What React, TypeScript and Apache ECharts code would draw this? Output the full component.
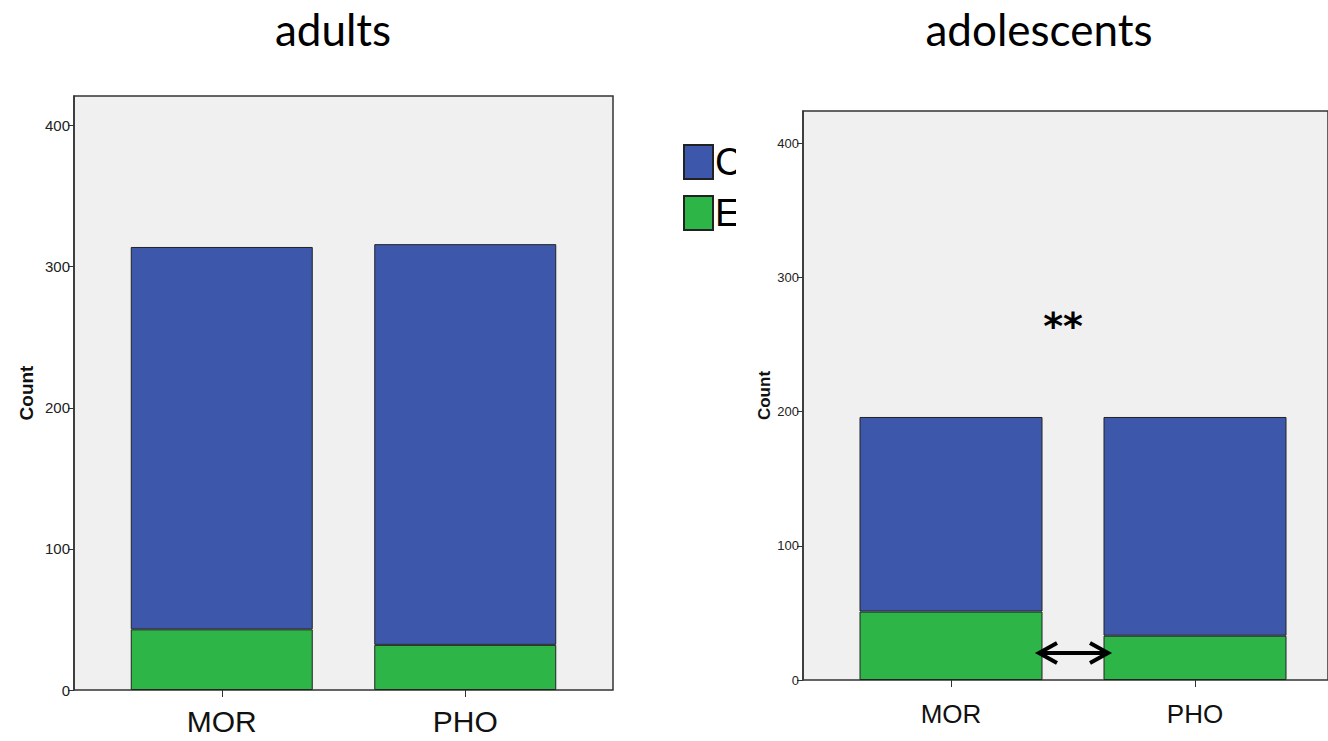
import React, { useEffect, useRef } from "react";
import * as echarts from "echarts";

const categories = ["MOR", "PHO"];
const legendNames = ["C", "E"];
const adultsE = [43, 32];
const adultsC = [271, 284];
const adolE = [51, 33];
const adolC = [145, 163];
const yTicks = [0, 100, 200, 300, 400];
const titles = ["adults", "adolescents"];
const significance = "**";

const BLUE = "#3D58AB";
const GREEN = "#2EB548";
const BG = "#F0F0F0";
const FRAME = "#333333";

export default function App() {
  const ref = useRef<HTMLDivElement>(null);
  useEffect(() => {
    if (!ref.current) return;
    const chart = echarts.init(ref.current, null, { renderer: "svg" });
    const frameY = (gi: number, max: number, fs: number, nameFs: number, nameGap: number) => ({
      gridIndex: gi,
      type: "value",
      min: 0,
      max,
      interval: 100,
      name: "Count",
      nameLocation: "middle",
      nameRotate: 90,
      nameGap,
      nameTextStyle: { fontFamily: "Liberation Sans", fontWeight: "bold", fontSize: nameFs, color: "#111" },
      axisLine: { show: true, lineStyle: { color: FRAME, width: 1.5 } },
      axisTick: { show: true, length: 6, customValues: yTicks, lineStyle: { color: FRAME } },
      axisLabel: { customValues: yTicks, fontFamily: "Liberation Sans", fontSize: fs, color: "#222", margin: 4 },
      splitLine: { show: false },
    });
    const barX = (gi: number, fs: number, margin: number) => ({
      gridIndex: gi,
      type: "category",
      data: categories,
      axisLine: { show: false },
      axisTick: { show: true, alignWithLabel: true, length: 7, lineStyle: { color: FRAME } },
      axisLabel: { fontFamily: "Liberation Sans", fontSize: fs, color: "#111", margin },
    });
    const barStyle = (c: string) => ({ color: c, borderColor: "#222", borderWidth: 1 });
    chart.setOption({
      animation: false,
      backgroundColor: "#FFFFFF",
      title: [
        { text: titles[0], left: 328, top: 2, textAlign: "center", textStyle: { fontFamily: "Lato", fontWeight: "normal", fontSize: 44, color: "#000" } },
        { text: titles[1], left: 1034, top: 2, textAlign: "center", textStyle: { fontFamily: "Lato", fontWeight: "normal", fontSize: 44, color: "#000" } },
      ],
      legend: {
        data: legendNames,
        orient: "vertical",
        left: 683,
        top: 143,
        padding: 0,
        itemWidth: 29,
        itemHeight: 34,
        itemGap: 13,
        icon: "rect",
        selectedMode: false,
        textStyle: { fontFamily: "Liberation Sans", fontSize: 38, color: "#000", padding: [0, 0, 0, -3] },
      },
      grid: [
        { left: 74, top: 96, width: 539, height: 594, show: true, backgroundColor: BG, borderColor: FRAME, borderWidth: 1.5 },
        { left: 100, top: 96, width: 487, height: 594 },
        { left: 803, top: 111, width: 600, height: 569, show: true, backgroundColor: BG, borderColor: FRAME, borderWidth: 1.5 },
        { left: 829, top: 111, width: 488, height: 569 },
      ],
      xAxis: [
        { gridIndex: 0, type: "category", data: categories, show: false },
        barX(1, 30, 16),
        { gridIndex: 2, type: "category", data: categories, show: false },
        barX(3, 26, 21),
      ],
      yAxis: [
        frameY(0, 421, 15, 19, 38),
        { gridIndex: 1, type: "value", min: 0, max: 421, show: false },
        frameY(2, 424, 13, 17, 28),
        { gridIndex: 3, type: "value", min: 0, max: 424, show: false },
      ],
      series: [
        { name: "E", type: "bar", xAxisIndex: 1, yAxisIndex: 1, stack: "a", barWidth: 182, data: adultsE, itemStyle: barStyle(GREEN) },
        { name: "C", type: "bar", xAxisIndex: 1, yAxisIndex: 1, stack: "a", barWidth: 182, data: adultsC, itemStyle: barStyle(BLUE) },
        { name: "E", type: "bar", xAxisIndex: 3, yAxisIndex: 3, stack: "b", barWidth: 183, data: adolE, itemStyle: barStyle(GREEN) },
        { name: "C", type: "bar", xAxisIndex: 3, yAxisIndex: 3, stack: "b", barWidth: 183, data: adolC, itemStyle: barStyle(BLUE) },
      ],
      graphic: [
        { type: "rect", z: 100, shape: { x: 736, y: 130, width: 36, height: 105 }, style: { fill: "#FFFFFF" } },
        {
          type: "text", z: 100, x: 1063, y: 326,
          style: { text: significance, fontFamily: "DejaVu Sans", fontWeight: "bold", fontSize: 38, fill: "#000", textAlign: "center", textVerticalAlign: "middle" },
        },
        { type: "line", z: 100, shape: { x1: 1040, y1: 653, x2: 1107, y2: 653 }, style: { stroke: "#000", lineWidth: 4 } },
        { type: "polyline", z: 100, shape: { points: [[1057, 643], [1039, 653], [1057, 663]] }, style: { stroke: "#000", lineWidth: 4, fill: null } },
        { type: "polyline", z: 100, shape: { points: [[1090, 643], [1108, 653], [1090, 663]] }, style: { stroke: "#000", lineWidth: 4, fill: null } },
      ],
    });
    return () => chart.dispose();
  }, []);
  return <div ref={ref} style={{ position: "fixed", left: 0, top: 0, width: 1328, height: 741 }} />;
}
